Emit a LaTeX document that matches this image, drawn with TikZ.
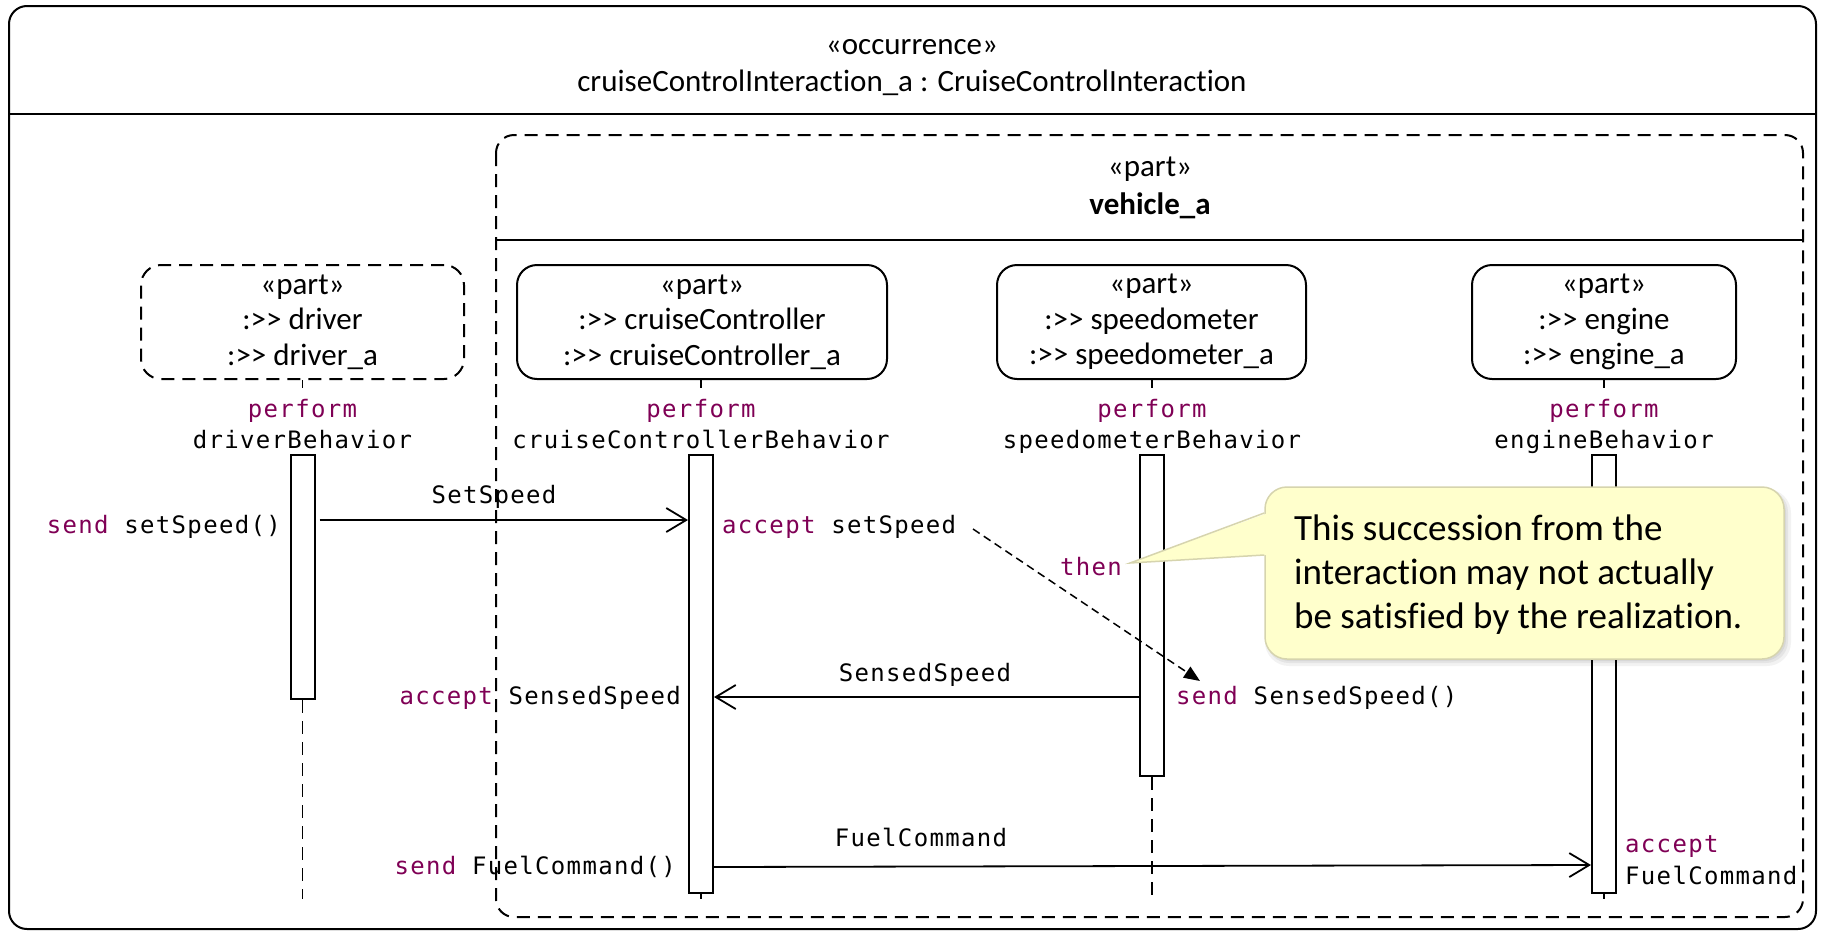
\documentclass[tikz,border=0pt]{standalone}
\usepackage{fontspec}
\setmainfont{Carlito}[Ligatures=NoCommon]
\newfontfamily\monof[LetterSpace=5.5]{DejaVu Sans Mono}
\usetikzlibrary{arrows.meta}
\definecolor{kwcol}{HTML}{7F0055}
\definecolor{notefill}{HTML}{FFFFCC}
\definecolor{noteline}{HTML}{D6D4AE}
\newcommand{\kwd}[1]{\textcolor{kwcol}{#1}}
\newcommand{\ssb}{:>\kern0pt> }
\begin{document}
\begin{tikzpicture}[x=1pt,y=-1pt,
  sansf/.style={font=\fontsize{31}{35.5}\selectfont, inner sep=0pt},
  hdrf/.style={font=\fontsize{31}{37}\selectfont, inner sep=0pt, align=center},
  notef/.style={font=\fontsize{37}{44}\selectfont, inner sep=0pt},
  frm/.style={line width=2pt, rounded corners=18pt},
  dsh/.style={dash pattern=on 13pt off 8pt},
  partbox/.style={draw, line width=2pt, rounded corners=20pt, align=center, sansf, minimum height=114pt},
  bar/.style={draw, fill=white, line width=2pt, minimum width=24pt, inner sep=0pt, anchor=north},
  mono/.style={font=\monof\fontsize{24}{30}\selectfont, inner sep=0pt},
  msg/.style={line width=1.8pt, -{Straight Barb[length=20pt,width=24pt]}},
  succ/.style={line width=1.5pt, dash pattern=on 8pt off 5pt, -{Triangle[length=16pt,width=13pt]}},
  life/.style={line width=1.8pt}
]
\useasboundingbox (0,0) rectangle (1825,932);

% outer occurrence frame
\draw[frm] (9,6) rectangle (1816,929);
\draw[line width=2pt] (9,114) -- (1816,114);
\node[hdrf] (occtitle) at (912,68) {«occurrence»\\cruiseControlInteraction\_a : CruiseControlInteraction};

% vehicle frame
\draw[frm, dsh] (496,135) rectangle (1803,917);
\draw[line width=2pt] (496,240) -- (1803,240);
\node[hdrf, font=\fontsize{31}{38}\selectfont] (vtitle) at (1150,188) {«part»\\\textbf{vehicle\_a}};

% part boxes
\node[partbox, dsh, minimum width=323pt] (driver) at (302.5,322) {«part»\\\ssb driver\\\ssb driver\_a};
\node[partbox, minimum width=370pt] (cruise) at (702,322) {«part»\\\ssb cruiseController\\\ssb cruiseController\_a};
\node[partbox, minimum width=309pt] (speedo) at (1151.5,322) {«part»\\\ssb speedometer\\\ssb speedometer\_a};
\node[partbox, minimum width=264pt] (engine) at (1604,322) {«part»\\\ssb engine\\\ssb engine\_a};

% lifeline ticks
\coordinate (dt) at (302.5,388);
\coordinate (ct) at (701,388);
\coordinate (st) at (1152,388);
\coordinate (et) at (1604,388);
\draw[life] (driver.south) -- (dt);
\draw[life] (cruise.south -| ct) -- (ct);
\draw[life] (speedo.south -| st) -- (st);
\draw[life] (engine.south -| et) -- (et);

% perform labels
\node[mono, anchor=base] (dperf) at (302.5,417) {\kwd{perform}};
\node[mono, anchor=base] (dbeh) at (302.5,448) {driverBehavior};
\node[mono, anchor=base] (cperf) at (701,417) {\kwd{perform}};
\node[mono, anchor=base] (cbeh) at (701,448) {cruiseControllerBehavior};
\node[mono, anchor=base] (sperf) at (1152,417) {\kwd{perform}};
\node[mono, anchor=base] (sbeh) at (1152,448) {speedometerBehavior};
\node[mono, anchor=base] (eperf) at (1604,417) {\kwd{perform}};
\node[mono, anchor=base] (ebeh) at (1604,448) {engineBehavior};

% activation bars
\node[bar, minimum height=244pt] (dbar) at (302.5,454) {};
\node[bar, minimum height=438pt] (cbar) at (701,454) {};
\node[bar, minimum height=321pt] (sbar) at (1152,454) {};
\node[bar, minimum height=438pt] (ebar) at (1604,454) {};

% lifelines below bars
\coordinate (dend) at (302.5,899);
\coordinate (cend) at (701,899);
\coordinate (send) at (1152,899);
\coordinate (eend) at (1604,899);
\draw[life, dsh] (dbar.south) -- (dend);
\draw[life] (cbar.south) -- (cend);
\draw[life, dsh] (sbar.south) -- (send);
\draw[life] (ebar.south) -- (eend);

% SetSpeed
\coordinate (y1) at (0,520);
\draw[msg, shorten <=4pt] (dbar.east |- y1) -- (cbar.west |- y1);
\node[mono, anchor=base] (lSet) at (494,503) {SetSpeed};
\node[mono, anchor=base east] (sendSet) at (281,533) {\kwd{send} setSpeed()};
\node[mono, anchor=base west] (accSet) at (722,533) {\kwd{accept} setSpeed};

% SensedSpeed
\coordinate (y2) at (0,697);
\draw[msg] (sbar.west |- y2) -- (cbar.east |- y2);
\node[mono, anchor=base] (lSensed) at (925,681) {SensedSpeed};
\node[mono, anchor=base east] (accSensed) at (681,704) {\kwd{accept} SensedSpeed};
\node[mono, anchor=base west] (sendSensed) at (1176,704) {\kwd{send} SensedSpeed()};

% FuelCommand
\coordinate (y3) at (0,867);
\coordinate (y4) at (0,865);
\draw[msg] (cbar.east |- y3) -- (ebar.west |- y4);
\node[mono, anchor=base] (lFuel) at (921,846) {FuelCommand};
\node[mono, anchor=base east] (sendFuel) at (676,874) {\kwd{send} FuelCommand()};
\node[mono, anchor=base west] (accFuel1) at (1625,852) {\kwd{accept}};
\node[mono, anchor=base west] (accFuel2) at (1625,884) {FuelCommand};

% succession
\coordinate (sA) at (973,529);
\coordinate (sB) at (1200,681);
\draw[succ] (sA) -- (sB);

% then label
\node[mono, anchor=base east] (thenl) at (1122,575) {\kwd{then}};

% callout
\fill[black, opacity=0.05, rounded corners=24pt] (1265,489) rectangle (1791,666);
\fill[black, opacity=0.06, rounded corners=22pt] (1267,490) rectangle (1788,663);
\fill[black, opacity=0.06, rounded corners=22pt] (1268,491) rectangle (1786,661);
\node[draw=noteline, fill=notefill, line width=1.5pt, rounded corners=22pt, minimum width=519pt, minimum height=172pt, inner sep=0pt] (note) at (1524.5,573) {};
\coordinate (nA) at (1268,513);
\coordinate (nB) at (1268,555);
\coordinate (nTip) at (1130,563);
\fill[notefill] (nA) -- (nTip) -- (nB) -- cycle;
\draw[noteline, line width=1.5pt] (note.west |- nA) -- (nTip) -- (note.west |- nB);
\node[notef, anchor=west, align=left] (notetext) at (1294,575) {This succession from the\\interaction may not actually\\be satisfied by the realization.};
\end{tikzpicture}
\end{document}
